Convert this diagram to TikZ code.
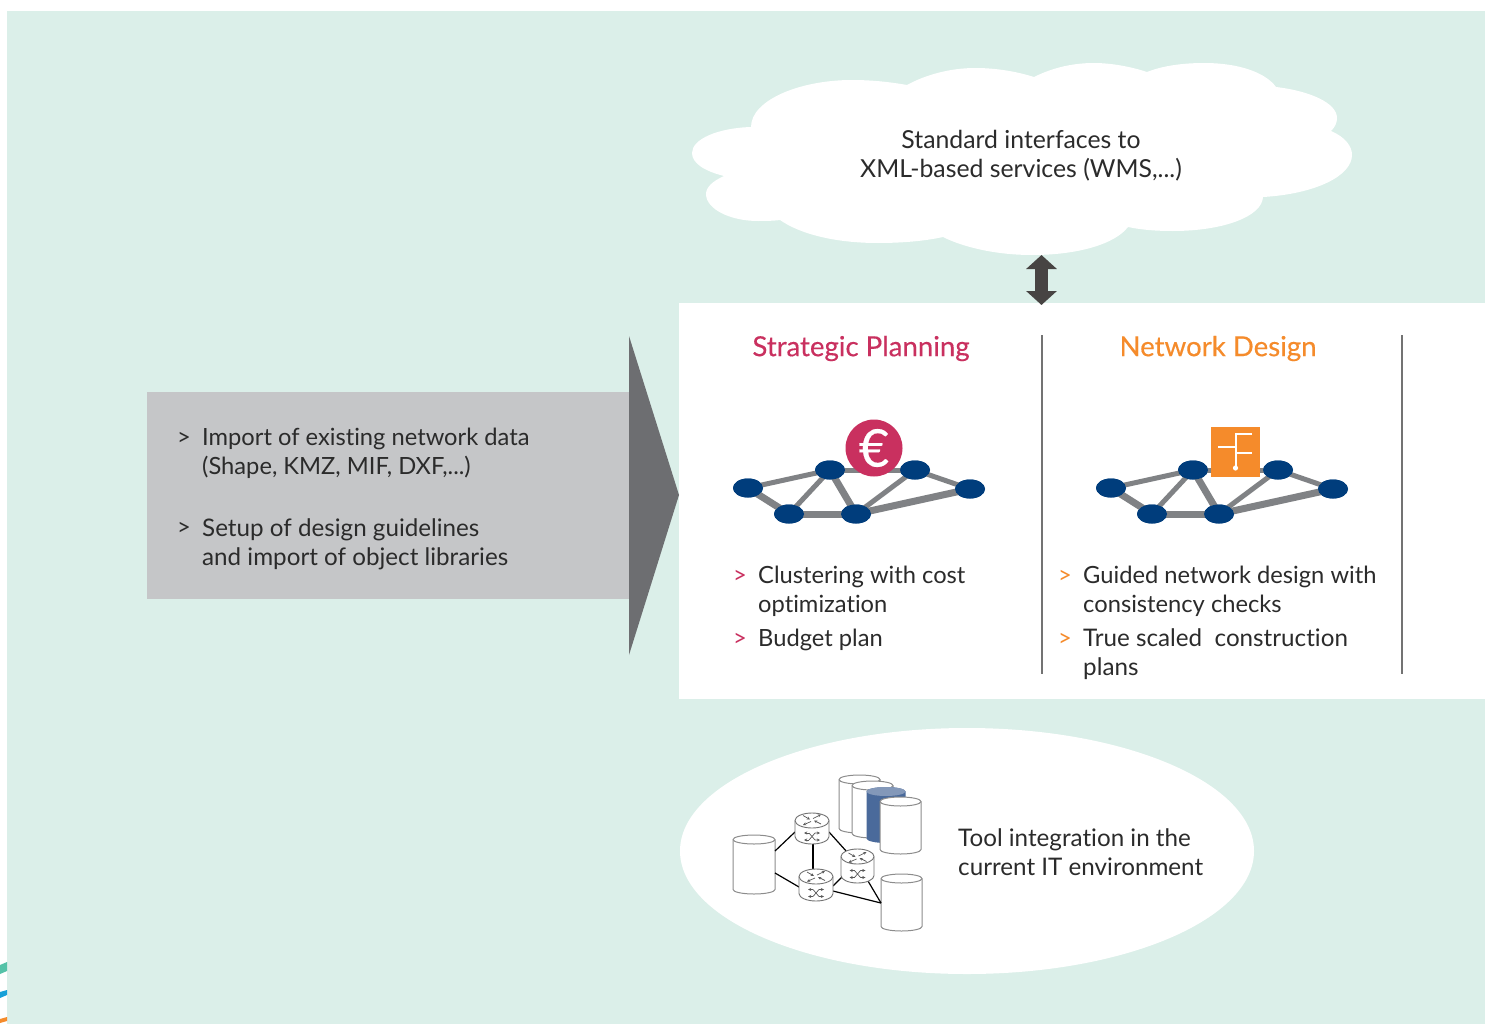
\documentclass[tikz,border=0pt]{standalone}
\usepackage{fontspec}
\setmainfont[Ligatures=NoCommon]{Lato}
\newfontfamily\headfont[FakeBold=0.35]{Lato}
\usetikzlibrary{shapes.geometric,arrows.meta}
\definecolor{panelbg}{HTML}{DBEFE9}
\definecolor{greybox}{HTML}{C5C6C8}
\definecolor{greytri}{HTML}{6D6E71}
\definecolor{linkgrey}{HTML}{808285}
\definecolor{netblue}{HTML}{003D7C}
\definecolor{pinkc}{HTML}{C9305F}
\definecolor{orangec}{HTML}{F58B2B}
\definecolor{tealc}{HTML}{55C2A8}
\definecolor{bluec}{HTML}{16A0D8}
\definecolor{textc}{HTML}{2B2B2B}
\definecolor{arrowc}{HTML}{474443}
\definecolor{dbblue}{HTML}{4A6A9B}
\definecolor{dbtop}{HTML}{8398B9}
\tikzset{
  body/.style={font=\fontsize{23.7}{29}\selectfont,text=textc,inner sep=0pt,align=left,anchor=west},
  wider/.style={font=\fontsize{24.2}{29}\selectfont},
  head/.style={font=\headfont\fontsize{27.6}{30}\selectfont,inner sep=0pt},
  netnode/.style={ellipse,fill=netblue,minimum width=30pt,minimum height=19pt,inner sep=0pt},
  thinlink/.style={draw=linkgrey,line width=5pt},
  thicklink/.style={draw=linkgrey,line width=7pt},
  anchorbox/.style={inner sep=0pt,outer sep=0pt},
  itlink/.style={draw=black,line width=1.2pt},
  rarrow/.style={draw=black!65,line width=0.7pt,-{Stealth[length=3.2pt,width=3pt]}},
  sepline/.style={draw=black!55,line width=1.2pt}
}
\newcommand{\netw}[2]{%
  \begin{scope}[shift={(#2,0)}]
    \node[netnode] (#1a) at (748,488) {};
    \node[netnode] (#1b) at (789,514) {};
    \node[netnode] (#1c) at (830,470) {};
    \node[netnode] (#1d) at (856,514) {};
    \node[netnode] (#1e) at (915,470) {};
    \node[netnode] (#1f) at (970,489) {};
  \end{scope}
}
\newcommand{\netlinks}[1]{%
  \draw[thinlink] (#1a.center) -- (#1c.center);
  \draw[thinlink] (#1c.center) -- (#1e.center);
  \draw[thinlink] (#1c.center) -- (#1b.center);
  \draw[thinlink] (#1d.center) -- (#1e.center);
  \draw[thinlink] (#1e.center) -- (#1f.center);
  \draw[thicklink] (#1a.center) -- (#1b.center);
  \draw[thicklink] (#1c.center) -- (#1d.center);
  \draw[thicklink] (#1b.center) -- (#1d.center);
  \draw[thicklink] (#1d.center) -- (#1f.center);
}
% name, cx, top, bottom, rx, ry, body fill, end fill, stroke options
\newcommand{\cyl}[9]{%
  \node[anchorbox,minimum width={2*#5*1pt},minimum height={(#4-#3)*1pt}] (#1) at ({#2},{(#3+#4)/2}) {};
  \path[fill=#7] ({#2-#5},{#3+#6}) arc [start angle=180,end angle=360,x radius=#5,y radius=#6]
     -- ({#2+#5},{#4-#6}) arc [start angle=0,end angle=180,x radius=#5,y radius=#6] -- cycle;
  \path[fill=#8] ({#2},{#3+#6}) ellipse [x radius=#5,y radius=#6];
  \draw[#9] ({#2-#5},{#3+#6}) arc [start angle=180,end angle=360,x radius=#5,y radius=#6]
     -- ({#2+#5},{#4-#6}) arc [start angle=0,end angle=180,x radius=#5,y radius=#6] -- cycle;
  \draw[#9] ({#2-#5},{#3+#6}) arc [start angle=180,end angle=0,x radius=#5,y radius=#6];
}
\newcommand{\rglyph}[1]{%
  \begin{scope}[shift={(#1.center)}]
    \draw[rarrow] (-9,-13) -- (-2,-9);
    \draw[rarrow] (9,-4.5) -- (2,-8);
    \draw[rarrow] (1,-10) -- (9,-14);
    \draw[rarrow] (-1,-7) -- (-9,-3.5);
    \draw[rarrow] (-3,4.5) -- (3,11.5) -- (8,11.5);
    \draw[rarrow] (-3,11.5) -- (3,4.5) -- (8,4.5);
    \draw[rarrow] (-3,4.5) -- (-8,4.5);
    \draw[rarrow] (-3,11.5) -- (-8,11.5);
  \end{scope}
}
\begin{document}
\begin{tikzpicture}[x=1pt,y=-1pt]
\useasboundingbox (0,0) rectangle (1485,1025);
\fill[white] (0,0) rectangle (1485,1025);
\fill[panelbg] (7,11) rectangle (1485,1024);
% corner stripes
\fill[tealc] (0,965) -- (7,962) -- (7,971) -- (0,974) -- cycle;
\fill[bluec] (0,992) -- (7,990) -- (7,995) -- (0,998) -- cycle;
\fill[orangec] (0,1019) -- (7,1017) -- (7,1021) -- (0,1023) -- cycle;
% cloud
\fill[white] (751,127) .. controls (751,100) and (800,80) .. (852,80) .. controls (872,80) and (890,82) .. (907,85)
 .. controls (925,75) and (950,68) .. (975,68) .. controls (998,68) and (1018,72) .. (1034,77)
 .. controls (1050,69) and (1070,63) .. (1094,63) .. controls (1112,63) and (1132,67) .. (1147,72)
 .. controls (1162,66) and (1182,63) .. (1204,63) .. controls (1238,63) and (1265,72) .. (1276,87)
 .. controls (1310,91) and (1337,103) .. (1337,118) .. controls (1337,123) and (1335,127) .. (1331,131)
 .. controls (1345,137) and (1352,146) .. (1352,155) .. controls (1352,176) and (1315,194) .. (1263,197)
 .. controls (1262,217) and (1222,231) .. (1173,231) .. controls (1157,231) and (1142,230) .. (1128,227)
 .. controls (1115,244) and (1078,255) .. (1032,255) .. controls (998,255) and (965,248) .. (943,237)
 .. controls (925,241) and (902,243) .. (878,243) .. controls (835,243) and (800,234) .. (780,220)
 .. controls (772,221) and (765,221) .. (758,221) .. controls (730,221) and (706,209) .. (706,194)
 .. controls (706,187) and (713,181) .. (724,176) .. controls (704,171) and (692,163) .. (692,153)
 .. controls (692,139) and (718,128) .. (751,127) -- cycle;
\node[font=\fontsize{24.8}{29}\selectfont,text=textc,align=center,inner sep=0pt] (cloudtext) at (1021,155.5) {Standard interfaces to\\XML-based services (WMS,...)};
% white panel
\node[fill=white,inner sep=0pt,minimum width=806pt,minimum height=396pt] (panel) at (1082,501) {};
% double arrow
\coordinate (arrtop) at (1041.5,255);
\coordinate (arrbot) at (1041.5,305);
\draw[arrowc,line width=13pt,{Triangle[length=14pt,width=30pt]}-{Triangle[length=14pt,width=30pt]}] (arrtop) -- (arrbot);
% input arrow
\fill[greybox] (147,392) rectangle (630,599);
\fill[greytri] (629,336) -- (679,495) -- (629,655) -- cycle;
\node[body] (b1) at (177,439) {>};
\node[body] (t1) at (202,453) {Import of existing network data\\(Shape, KMZ, MIF, DXF,...)};
\node[body] (b2) at (177,529) {>};
\node[body,wider] (t2) at (202,544) {Setup of design guidelines\\and import of object libraries};
% columns
\node[head,text=pinkc] (h1) at (861,348.5) {Strategic Planning};
\node[head,text=orangec] (h2) at (1218,348.5) {Network Design};
\coordinate (s1t) at (1042,335); \coordinate (s1b) at (1042,674);
\coordinate (s2t) at (1402,335); \coordinate (s2b) at (1402,674);
\draw[sepline] (s1t) -- (s1b);
\draw[sepline] (s2t) -- (s2b);
% networks
\netw{n}{0}
\netw{m}{363}
\netlinks{n}
\netlinks{m}
\netw{n}{0}
\netw{m}{363}
\node[circle,fill=pinkc,minimum size=57pt,inner sep=0pt,text=white,font=\headfont\fontsize{52}{52}\selectfont] (euro) at (874,448) {€};
\node[fill=orangec,minimum width=49pt,minimum height=50pt,inner sep=0pt] (sq) at (1235.5,452) {};
\draw[white,line width=1.6pt] (1252,434) -- (1236,434) -- (1236,468);
\draw[white,line width=1.6pt] (1218,447) -- (1236,447);
\draw[white,line width=1.6pt] (1236,453) -- (1252,453);
\fill[white] (1235.5,468) circle (2.6);
% lists
\node[body,text=pinkc] (p1) at (733,577) {>};
\node[body] (p1t) at (758,591) {Clustering with cost\\optimization};
\node[body,text=pinkc] (p2) at (733,640) {>};
\node[body] (p2t) at (758,639.5) {Budget plan};
\node[body,text=orangec] (q1) at (1058,577) {>};
\node[body] (q1t) at (1083,591) {Guided network design with\\consistency checks};
\node[body,text=orangec] (q2) at (1058,640) {>};
\node[body,wider] (q2t) at (1083,654) {True scaled\ \ construction\\plans};
% IT ellipse
\fill[white] (967,851) ellipse [x radius=287,y radius=123];
\node[body,wider] (it) at (958,852) {Tool integration in the\\current IT environment};
% database stack
\cyl{d1}{859.5}{775}{833}{20.5}{4.5}{white}{white}{draw=black!45,line width=1pt}
\cyl{d2}{872.5}{781}{838}{20.5}{4.5}{white}{white}{draw=black!45,line width=1pt}
\cyl{d3}{886}{787}{843}{19.5}{4.5}{dbblue}{dbtop}{draw=none}
\cyl{d4}{900.5}{797}{854}{20.5}{4.5}{white}{white}{draw=black!45,line width=1pt}
\cyl{dl}{754}{835}{894}{21}{4.5}{white}{white}{draw=black!45,line width=1pt}
\cyl{dr}{901.5}{874}{931}{20.5}{4.5}{white}{white}{draw=black!45,line width=1pt}
% routers' anchors first, so that links can be drawn beneath the bodies
\path (812,828.5) node[anchorbox,minimum width=34pt,minimum height=31pt] (r1) {}
      (816,885) node[anchorbox,minimum width=34pt,minimum height=32pt] (r2) {}
      (857.5,866) node[anchorbox,minimum width=33pt,minimum height=34pt] (r3) {};
\draw[itlink] ([shift={(21,-13.5)}]dl.center) -- ([shift={(-17,3.5)}]r1.center);
\draw[itlink] ([shift={(21,8.5)}]dl.center) -- ([shift={(-17,2)}]r2.center);
\draw[itlink] ([shift={(1,14.5)}]r1.center) -- ([shift={(-3,-16)}]r2.center);
\draw[itlink] ([shift={(17,3.5)}]r1.center) -- ([shift={(-10.5,-14)}]r3.center);
\draw[itlink] ([shift={(17,1)}]r2.center) -- ([shift={(-15.5,11)}]r3.center);
\draw[itlink] ([shift={(17,6)}]r2.center) -- ([shift={(-20.5,0.5)}]dr.center);
\draw[itlink] ([shift={(10.5,15)}]r3.center) -- ([shift={(-20.5,0.5)}]dr.center);
\cyl{r1b}{812}{813}{844}{17}{7.5}{white}{white}{draw=black!55,line width=0.9pt}
\cyl{r2b}{816}{869}{901}{17}{7.5}{white}{white}{draw=black!55,line width=0.9pt}
\cyl{r3b}{857.5}{849}{883}{16.5}{7.5}{white}{white}{draw=black!55,line width=0.9pt}
\rglyph{r1}
\rglyph{r2}
\rglyph{r3}
\end{tikzpicture}
\end{document}
